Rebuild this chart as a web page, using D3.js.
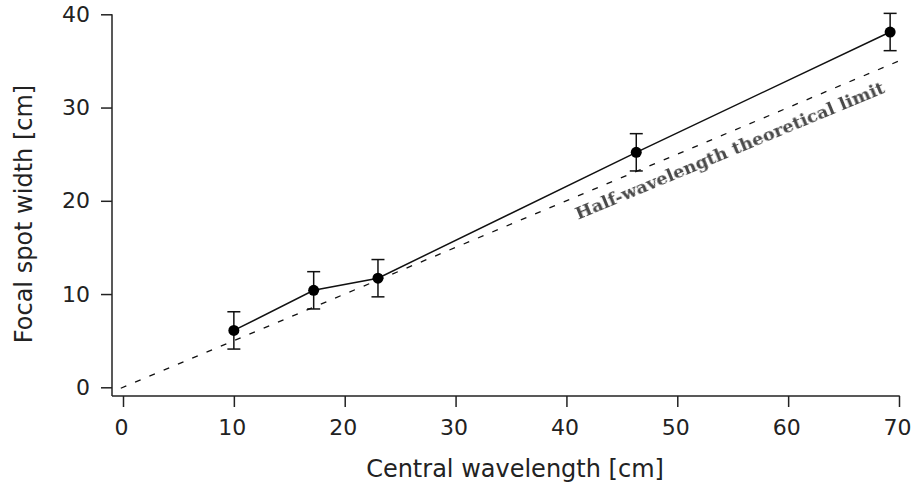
<!DOCTYPE html>
<html>
<head>
<meta charset="utf-8">
<script src="https://cdn.jsdelivr.net/npm/d3@7"></script>
<style>
  body { margin: 0; background: #fff; }
  svg text { font-family: "DejaVu Sans", Verdana, sans-serif; }
</style>
</head>
<body>
<div id="chart"></div>
<script>
// measured values
var wavelength = [10, 17.2, 23, 46.3, 69.2];
var spotWidth  = [6.1, 10.4, 11.7, 25.2, 38.1];
var spotError  = [2, 2, 2, 2, 2];
var limitX     = [-0.2, 70];       // half-wavelength limit, y = x / 2
var xTicks     = [0, 10, 20, 30, 40, 50, 60, 70];
var yTicks     = [0, 10, 20, 30, 40];
var limitLabel = "Half-wavelength theoretical limit";

function init() {
    var w = 917, h = 486;

    var svg = d3.select("#chart")
                .append("svg")
                .attr("width", w)
                .attr("height", h);

    var x = d3.scaleLinear().domain([0, 70]).range([123, 899]);
    var y = d3.scaleLinear().domain([0, 40]).range([387.3, 14.3]);

    var axisX = 112;   // y axis sits a little left of x=0
    var axisY = 396;   // x axis sits a little below y=0

    // axes lines
    svg.append("line")
       .attr("x1", axisX).attr("x2", axisX)
       .attr("y1", y(40)).attr("y2", axisY)
       .attr("stroke", "#222").attr("stroke-width", 1.5);
    svg.append("line")
       .attr("x1", axisX).attr("x2", x(70) + 0.75)
       .attr("y1", axisY).attr("y2", axisY)
       .attr("stroke", "#222").attr("stroke-width", 1.5);

    var gx = svg.append("g")
                .attr("transform", "translate(0," + axisY + ")")
                .call(d3.axisBottom(x).tickValues(xTicks).tickSize(11).tickPadding(12).tickSizeOuter(0));
    var gy = svg.append("g")
                .attr("transform", "translate(" + axisX + ",0)")
                .call(d3.axisLeft(y).tickValues(yTicks).tickSize(11).tickPadding(11).tickSizeOuter(0));

    [gx, gy].forEach(function(g) {
        g.select(".domain").remove();
        g.selectAll("line").attr("stroke", "#222").attr("stroke-width", 1.5);
        g.selectAll("text")
         .attr("fill", "#222")
         .style("font-size", "22px")
         .style("font-family", "'DejaVu Sans', Verdana, sans-serif");
    });
    gx.selectAll("text").attr("dx", "-2");

    // axis titles
    svg.append("text")
       .attr("x", 515).attr("y", 477)
       .attr("text-anchor", "middle")
       .attr("fill", "#222")
       .style("font-size", "24px")
       .text("Central wavelength [cm]");
    svg.append("text")
       .attr("transform", "translate(32,214) rotate(-90)")
       .attr("text-anchor", "middle")
       .attr("fill", "#222")
       .style("font-size", "24px")
       .text("Focal spot width [cm]");

    // theoretical limit (dashed)
    svg.append("path")
       .datum(limitX)
       .attr("d", d3.line().x(d => x(d)).y(d => y(d / 2)))
       .attr("fill", "none")
       .attr("stroke", "#111")
       .attr("stroke-width", 1.3)
       .attr("stroke-dasharray", "6,9.5");

    // blur filter for the label
    var defs = svg.append("defs");
    defs.append("filter").attr("id", "soft")
        .append("feGaussianBlur").attr("stdDeviation", 0.7);

    svg.append("text")
       .attr("transform", "translate(732,156) rotate(-22.5)")
       .attr("text-anchor", "middle")
       .attr("fill", "#4a4a4a")
       .attr("filter", "url(#soft)")
       .style("font-family", "'DejaVu Serif', Georgia, serif")
       .style("font-weight", "bold")
       .style("font-size", "17px")
       .attr("textLength", 333)
       .attr("lengthAdjust", "spacingAndGlyphs")
       .text(limitLabel);

    var data = wavelength.map(function(d, i) {
        return { x: d, y: spotWidth[i], e: spotError[i] };
    });

    // measured line
    svg.append("path")
       .datum(data)
       .attr("d", d3.line().x(d => x(d.x)).y(d => y(d.y)))
       .attr("fill", "none")
       .attr("stroke", "#111")
       .attr("stroke-width", 1.5);

    // error bars
    var eb = svg.selectAll("g.err")
                .data(data)
                .enter()
                .append("g")
                .attr("class", "err")
                .attr("stroke", "#111")
                .attr("stroke-width", 1.5);
    eb.append("line")
      .attr("x1", d => x(d.x)).attr("x2", d => x(d.x))
      .attr("y1", d => y(d.y - d.e)).attr("y2", d => y(d.y + d.e));
    eb.append("line")
      .attr("x1", d => x(d.x) - 6.5).attr("x2", d => x(d.x) + 6.5)
      .attr("y1", d => y(d.y + d.e)).attr("y2", d => y(d.y + d.e));
    eb.append("line")
      .attr("x1", d => x(d.x) - 6.5).attr("x2", d => x(d.x) + 6.5)
      .attr("y1", d => y(d.y - d.e)).attr("y2", d => y(d.y - d.e));

    svg.selectAll("circle")
       .data(data)
       .enter()
       .append("circle")
       .attr("cx", d => x(d.x))
       .attr("cy", d => y(d.y))
       .attr("r", 5.5)
       .style("fill", "#000");
}

window.onload = init;
</script>
</body>
</html>
